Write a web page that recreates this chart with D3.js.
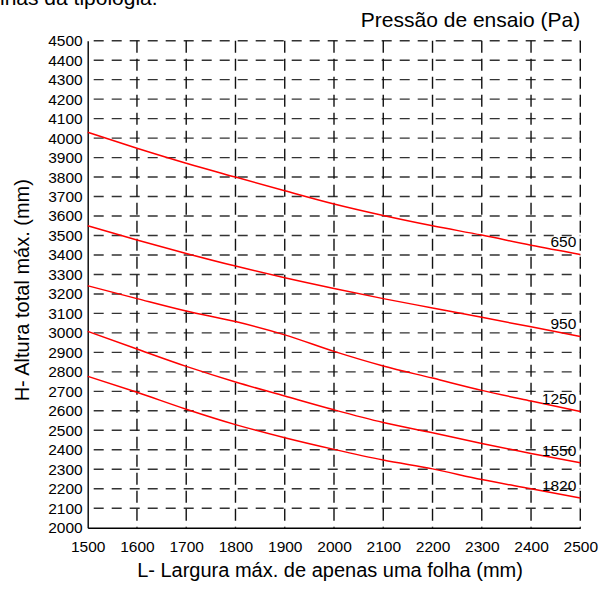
<!DOCTYPE html>
<html lang="pt">
<head>
  <meta charset="UTF-8">
  <title>Pressão de ensaio</title>
  <script src="https://d3js.org/d3.v7.min.js"></script>
  <style>
    body { margin: 0; background: #fff; }
    svg { display: block; font-family: "Liberation Sans", Arial, sans-serif; }
  </style>
</head>
<body>
  <div class="chart"></div>
  <script>
    // largura (mm) e altura máx. (mm) para cada pressão de ensaio
    const larguras = [1500, 1600, 1700, 1800, 1900, 2000, 2100, 2200, 2300, 2400, 2500];
    const pressoes = ['650', '950', '1250', '1550', '1820'];
    const h650  = [4030, 3948, 3871, 3800, 3730, 3662, 3603, 3550, 3502, 3450, 3403];
    const h950  = [3550, 3477, 3408, 3343, 3283, 3228, 3176, 3128, 3080, 3031, 2982];
    const h1250 = [3242, 3176, 3112, 3058, 2990, 2905, 2830, 2768, 2705, 2650, 2597];
    const h1550 = [3008, 2917, 2828, 2748, 2676, 2605, 2540, 2487, 2432, 2381, 2333];
    const h1820 = [2777, 2695, 2608, 2529, 2462, 2402, 2347, 2302, 2247, 2200, 2153];
    const xTicks = d3.range(1500, 2501, 100);
    const yTicks = d3.range(2000, 4501, 100);

    const width = 601, height = 590;
    const margin = {top: 40.7, right: 20.7, bottom: 62.3, left: 87.7};

    const svg = d3.select('.chart').append('svg')
      .attr('width', width).attr('height', height);

    const x = d3.scaleLinear().domain([1500, 2500]).range([margin.left, width - margin.right]);
    const y = d3.scaleLinear().domain([2000, 4500]).range([height - margin.bottom, margin.top]);

    // grelha tracejada
    svg.append('g').selectAll('line')
      .data(yTicks.slice(1))
      .enter().append('line')
      .attr('x1', x(1500)).attr('x2', x(2500))
      .attr('y1', d => y(d)).attr('y2', d => y(d))
      .attr('stroke', '#333').attr('stroke-width', 1.4)
      .attr('stroke-dasharray', '10,8').attr('stroke-dashoffset', 12);

    svg.append('g').selectAll('line')
      .data(xTicks.slice(1))
      .enter().append('line')
      .attr('x1', d => x(d)).attr('x2', d => x(d))
      .attr('y1', y(4500)).attr('y2', y(2000))
      .attr('stroke', '#111').attr('stroke-width', 1.4)
      .attr('stroke-dasharray', '12,6');

    // eixos
    svg.append('g')
      .attr('transform', `translate(0,${y(2000)})`)
      .call(d3.axisBottom(x).tickValues(xTicks).tickSize(0).tickPadding(13).tickFormat(d3.format('d')))
      .call(g => g.select('.domain').attr('stroke', '#000').attr('stroke-width', 1.4))
      .call(g => g.selectAll('text').attr('font-size', 15.5).attr('fill', '#000').attr('font-family', null));

    svg.append('g')
      .attr('transform', `translate(${x(1500)},0)`)
      .call(d3.axisLeft(y).tickValues(yTicks).tickSize(0).tickPadding(5).tickFormat(d3.format('d')))
      .call(g => g.select('.domain').attr('stroke', '#000').attr('stroke-width', 1.4))
      .call(g => g.selectAll('text').attr('font-size', 15.5).attr('fill', '#000').attr('font-family', null));

    // curvas
    const series = [h650, h950, h1250, h1550, h1820];
    const line = d3.line()
      .x((d, i) => x(larguras[i]))
      .y(d => y(d))
      .curve(d3.curveMonotoneX);

    svg.append('g').selectAll('path')
      .data(series)
      .enter().append('path')
      .attr('d', line)
      .attr('fill', 'none')
      .attr('stroke', '#ff0000')
      .attr('stroke-width', 1.5);

    svg.append('g').selectAll('text')
      .data(series)
      .enter().append('text')
      .attr('x', x(2500) - 4)
      .attr('y', d => y(d[d.length - 1]) - 7)
      .attr('text-anchor', 'end')
      .attr('font-size', 15.5)
      .attr('fill', '#000')
      .text((d, i) => pressoes[i]);

    // títulos
    svg.append('text')
      .attr('x', 0).attr('y', 5)
      .attr('font-size', 21).attr('fill', '#000')
      .text('inas da tipologia.');

    svg.append('text')
      .attr('x', x(2500)).attr('y', 26.5)
      .attr('text-anchor', 'end')
      .attr('font-size', 21).attr('fill', '#000')
      .text('Pressão de ensaio (Pa)');

    svg.append('text')
      .attr('x', (x(1500) + x(2500)) / 2 - 4).attr('y', 577)
      .attr('text-anchor', 'middle')
      .attr('font-size', 20).attr('fill', '#000')
      .text('L- Largura máx. de apenas uma folha (mm)');

    svg.append('text')
      .attr('transform', `translate(29,${y(3250) + 6}) rotate(-90)`)
      .attr('text-anchor', 'middle')
      .attr('font-size', 20).attr('fill', '#000')
      .text('H- Altura total máx. (mm)');
  </script>
</body>
</html>
